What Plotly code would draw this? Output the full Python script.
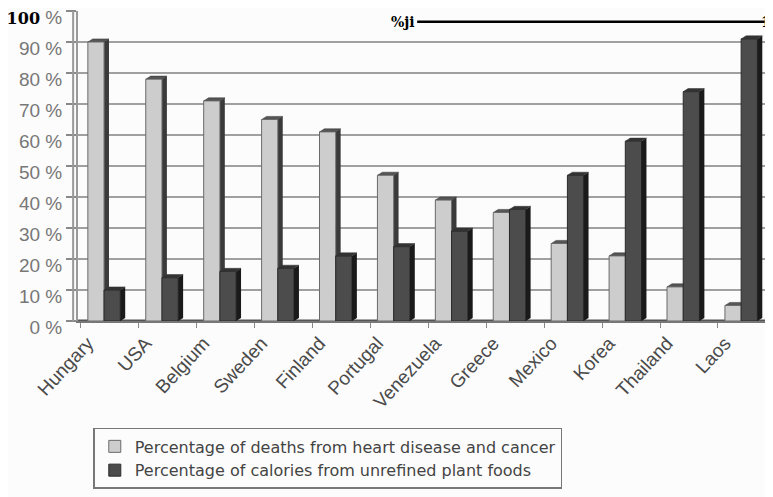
import plotly.graph_objects as go
import numpy as np

countries = ["Hungary", "USA", "Belgium", "Sweden", "Finland", "Portugal",
             "Venezuela", "Greece", "Mexico", "Korea", "Thailand", "Laos"]
deaths_pct = [90, 78, 71, 65, 61, 47, 39, 35, 25, 21, 11, 5]
plant_pct = [10, 14, 16, 17, 21, 24, 29, 36, 47, 58, 74, 91]
ytick_vals = [0, 10, 20, 30, 40, 50, 60, 70, 80, 90, 100]
ytick_text = [f"{v} %" for v in ytick_vals[:-1]] + [
    "<span style='font-family:DejaVu Serif;color:black;font-size:16px'><b>100</b></span> %"]
legend_names = ["Percentage of deaths from heart disease and cancer",
                "Percentage of calories from unrefined plant foods"]

idx = np.arange(len(countries))
W = 0.28            # bar width in category units
OFF_L, OFF_D = -0.38, -0.10
D, DY = 0.085, 1.0  # 3D depth offsets

fig = go.Figure()
fig.add_trace(go.Bar(x=idx, y=deaths_pct, width=W, offset=OFF_L,
                     name=legend_names[0],
                     marker=dict(color="#cdcdcd", line=dict(color="#6a6a6a", width=1))))
fig.add_trace(go.Bar(x=idx, y=plant_pct, width=W, offset=OFF_D,
                     name=legend_names[1],
                     marker=dict(color="#4c4c4c", line=dict(color="#2a2a2a", width=1))))

shapes = []
def faces(xs, vals, off, side_col, top_col, layer):
    for i, v in zip(xs, vals):
        x0 = i + off
        x1 = x0 + W
        shapes.append(dict(type="path", layer=layer, xref="x", yref="y",
                           path=f"M{x1},0 L{x1+D},{DY} L{x1+D},{v+DY} L{x1},{v} Z",
                           fillcolor=side_col, line=dict(width=0)))
        shapes.append(dict(type="path", layer=layer, xref="x", yref="y",
                           path=f"M{x0},{v} L{x0+D},{v+DY} L{x1+D},{v+DY} L{x1},{v} Z",
                           fillcolor=top_col, line=dict(color="#333", width=0.5)))

faces(idx, deaths_pct, OFF_L, "#3a3a3a", "#555555", "between")
faces(idx, plant_pct, OFF_D, "#1a1a1a", "#333333", "above")

# floor edge and double wall line
shapes.append(dict(type="line", xref="paper", yref="y", x0=0, x1=1, y0=0, y1=0,
                   line=dict(color="#555", width=3), layer="between"))
shapes.append(dict(type="line", xref="paper", yref="paper", x0=-0.007, x1=-0.007,
                   y0=0, y1=1, line=dict(color="#999", width=2)))
# scan artifact line at top
shapes.append(dict(type="line", xref="paper", yref="paper", x0=0.488, x1=0.988,
                   y0=0.965, y1=0.965, line=dict(color="black", width=2.5)))
fig.update_layout(shapes=shapes)

fig.add_annotation(text="<b>%ji</b>", xref="paper", yref="paper", x=0.488, y=0.965,
                   xanchor="right", yanchor="middle", showarrow=False,
                   font=dict(family="DejaVu Serif", size=14, color="black"))
fig.add_annotation(text="<b>1</b>", xref="paper", yref="paper", x=1.0, y=0.965,
                   xanchor="right", yanchor="middle", showarrow=False,
                   font=dict(family="DejaVu Serif", size=14, color="black"))

# page body has an 8px margin: size/margins compensate so the plot lands in place
fig.update_layout(
    width=765, height=489,
    margin=dict(l=70, r=0, t=3, b=176, autoexpand=False),
    paper_bgcolor="#fcfcfc", plot_bgcolor="#fcfcfc",
    barmode="overlay", showlegend=True,
    font=dict(family="Liberation Sans, Arial", color="#555"),
    legend=dict(x=0.022, y=-0.345, xanchor="left", yanchor="top",
                bgcolor="#fcfcfc", bordercolor="#777", borderwidth=1.5,
                font=dict(size=16, color="#444", family="DejaVu Sans"),
                traceorder="normal", itemwidth=30, tracegroupgap=0),
    xaxis=dict(range=[-0.55, 11.45], tickvals=idx, ticktext=countries,
               tickangle=-47, tickfont=dict(size=19, color="#4a4a4a"),
               ticklabelshift=-22, ticklabelstandoff=2,
               showgrid=False, zeroline=False, ticks="", automargin=False,
               minor=dict(tickvals=list(idx - 0.5) + [11.5], ticks="outside",
                          ticklen=5, tickcolor="#888", showgrid=False),
               showline=True, linecolor="#777", linewidth=1.5, fixedrange=True),
    yaxis=dict(range=[0, 100], tickvals=ytick_vals, ticktext=ytick_text,
               tickfont=dict(size=19, color="#777"), automargin=False,
               ticklabeloverflow="allow", ticklabelshift=6,
               showgrid=True, gridcolor="#a0a0a0", gridwidth=2,
               ticks="outside", ticklen=10, tickcolor="#888", tickwidth=1.5,
               showline=True, linecolor="#999", linewidth=2, zeroline=False,
               fixedrange=True),
)

fig.write_html("out.html")
